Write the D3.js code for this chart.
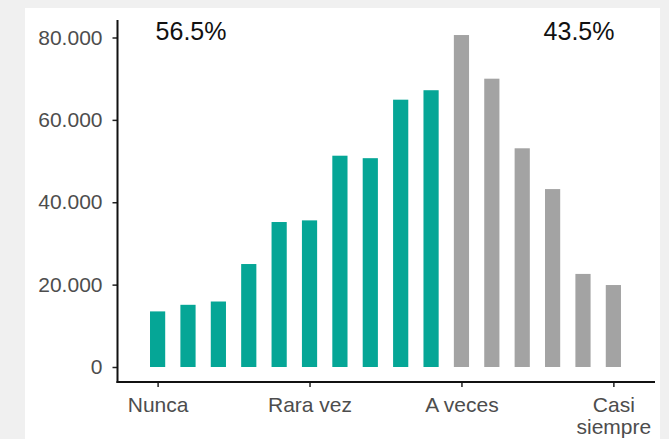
<!DOCTYPE html>
<html>
<head>
<meta charset="utf-8">
<script src="https://cdn.jsdelivr.net/npm/d3@7"></script>
<style>
    body { margin: 0; background: #f0f0f0; }
    svg { display: block; }
    text { font-family: "Liberation Sans", Arial, sans-serif; }
</style>
</head>
<body>
<div id="chart"></div>
<script>
/*************************************************
    Data:
 *************************************************/
var positions = [1, 2, 3, 4, 5, 6, 7, 8, 9, 10, 11, 12, 13, 14, 15, 16];
var counts = [13500, 15100, 15900, 25000, 35200, 35600, 51300, 50700,
              64900, 67200, 80600, 70000, 53100, 43200, 22600, 19900];
var groups = ["bajo", "bajo", "bajo", "bajo", "bajo", "bajo", "bajo", "bajo",
              "bajo", "bajo", "alto", "alto", "alto", "alto", "alto", "alto"];
var tickPositions = [1, 6, 11, 16];
var tickLabels = ["Nunca", "Rara vez", "A veces", "Casi siempre"];
var yTicks = [0, 20000, 40000, 60000, 80000];
var shareLabels = ["56.5%", "43.5%"];

/*************************************************
    Setup:
 *************************************************/
var width = 669, height = 439;
var panel = {left: 117.5, right: 655, top: 20, bottom: 382};

var svg = d3.select("#chart").append("svg")
    .attr("width", width)
    .attr("height", height);

// white card on the grey page
svg.append("rect")
    .attr("x", 25).attr("y", 8)
    .attr("width", 635).attr("height", 431)
    .attr("fill", "#ffffff");

var x = d3.scaleLinear()
    .domain([1 - 1.32, 16 + 1.37])
    .range([panel.left, panel.right]);
var y = d3.scaleLinear()
    .domain([0, 80000])
    .range([367, 37.5]);
var color = d3.scaleOrdinal()
    .domain(["bajo", "alto"])
    .range(["#05a696", "#a3a3a3"]);

var fmt = d3.formatLocale({decimal: ",", thousands: ".", grouping: [3], currency: ["", ""]}).format(",");

var data = positions.map(function(p, i) {
    return {pos: p, value: counts[i], group: groups[i]};
});

/*************************************************
    Bars:
 *************************************************/
var barW = (x(2) - x(1)) * 0.5;
svg.append("g").selectAll("rect")
    .data(data)
    .enter().append("rect")
    .attr("x", function(d) { return x(d.pos) - barW / 2; })
    .attr("width", barW)
    .attr("y", function(d) { return y(d.value); })
    .attr("height", function(d) { return y(0) - y(d.value); })
    .attr("fill", function(d) { return color(d.group); });

/*************************************************
    Axes:
 *************************************************/
var yAxis = svg.append("g")
    .attr("transform", "translate(" + panel.left + ",0)")
    .call(d3.axisLeft(y).tickValues(yTicks).tickFormat(fmt).tickSize(5).tickPadding(10).tickSizeOuter(0));
yAxis.select(".domain").remove();

var xAxis = svg.append("g")
    .attr("transform", "translate(0," + panel.bottom + ")")
    .call(d3.axisBottom(x).tickValues(tickPositions).tickSize(5).tickPadding(0)
        .tickFormat(function(d, i) { return tickLabels[i]; }));
xAxis.select(".domain").remove();

[yAxis, xAxis].forEach(function(g) {
    g.selectAll(".tick line").attr("stroke", "#222").attr("stroke-width", 1.5);
    g.selectAll(".tick text")
        .attr("fill", "#4d4d4d")
        .attr("font-size", "21px");
});

// split the two word label over two lines, like the original
xAxis.selectAll(".tick text")
    .attr("dy", null)
    .attr("y", 30)
    .each(function(d, i) {
        var words = tickLabels[i].split(" ");
        if (tickLabels[i] != "Casi siempre") return;
        var t = d3.select(this).text(null);
        words.forEach(function(w, k) {
            t.append("tspan").attr("x", 0).attr("dy", k == 0 ? 0 : 22).text(w);
        });
    });

// axis lines
svg.append("line")
    .attr("x1", panel.left).attr("x2", panel.left)
    .attr("y1", panel.top).attr("y2", panel.bottom + 1)
    .attr("stroke", "#111").attr("stroke-width", 2);
svg.append("line")
    .attr("x1", panel.left - 1).attr("x2", panel.right)
    .attr("y1", panel.bottom).attr("y2", panel.bottom)
    .attr("stroke", "#111").attr("stroke-width", 2);

/*************************************************
    Share labels:
 *************************************************/
svg.append("g").selectAll("text")
    .data(shareLabels)
    .enter().append("text")
    .attr("x", function(d, i) { return x(i == 0 ? 2.1 : 14.87); })
    .attr("y", y(80000) + 2.5)
    .attr("text-anchor", "middle")
    .attr("font-size", "25px")
    .attr("fill", "#111")
    .text(function(d) { return d; });
</script>
</body>
</html>
